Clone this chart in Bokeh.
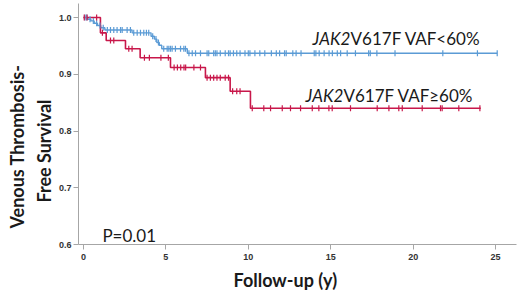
import numpy as np
from bokeh.plotting import figure
from bokeh.models import Label, FixedTicker, NumeralTickFormatter, Range1d, Title
from bokeh.embed import file_html
from bokeh.resources import INLINE

# ---- data ----
# JAK2 V617F VAF >= 60% (red)
red_times = [0, 1.03, 1.38, 2.55, 3.44, 5.28, 7.4, 8.9, 10.13, 24.1]
red_surv = [1.0, 0.973, 0.9595, 0.945, 0.929, 0.912, 0.894, 0.870, 0.840, 0.840]
red_censor = [0.05, 0.22, 0.8, 1.15, 1.64, 1.84, 2.75, 2.95, 3.7, 4.0, 4.7, 5.15,
              5.5, 5.7, 5.9, 6.1, 6.2, 6.7, 7.1, 7.5, 7.7, 7.9, 8.1, 8.3, 8.6, 8.8,
              9.05, 9.3, 9.5, 10.24, 10.94, 11.35, 12.06, 12.56, 13.17, 13.88, 14.28,
              14.89, 15.09, 16.2, 17.82, 18.53, 19.13, 19.34, 20.55, 21.66, 21.76,
              22.77, 24.05]

# JAK2 V617F VAF < 60% (blue)
blue_times = [0, 0.25, 0.45, 0.65, 0.85, 1.05, 1.3, 2.95, 4.1, 4.3, 4.45, 4.6, 4.75, 6.3, 25.1]
blue_surv = [1.0, 0.997, 0.994, 0.990, 0.986, 0.982, 0.978, 0.973, 0.967, 0.962, 0.956,
             0.951, 0.945, 0.937, 0.937]
blue_censor = [0.1, 0.2, 0.4, 0.6, 0.8, 1.0, 1.2, 1.45, 1.64, 1.84, 2.04, 2.25, 2.35,
               2.65, 2.85, 3.05, 3.26, 3.46, 3.66, 3.82, 3.96, 4.2, 4.4, 4.55, 4.87,
               5.08, 5.18, 5.28, 5.38, 5.58, 5.89, 6.09, 6.19, 6.4, 6.6, 6.8, 7.1, 7.5,
               7.6, 7.9, 8.0, 8.1, 8.3, 8.6, 8.8, 8.9, 9.1, 9.3, 9.5, 9.8, 10.0, 10.1,
               10.4, 10.7, 11.0, 11.4, 11.7, 11.9, 12.2, 12.3, 12.7, 12.9, 13.2, 14.0,
               14.1, 14.3, 14.6, 14.9, 15.1, 15.4, 15.6, 16.0, 16.5, 17.3, 17.4, 17.8,
               18.9, 21.8, 23.9, 25.1]

x_ticks = [0, 5, 10, 15, 20, 25]
y_ticks = [0.6, 0.7, 0.8, 0.9, 1.0]

RED = "#C8174A"
BLUE = "#5B9BD5"
TXT = "#1a1a1a"


def step_value(times, surv, t):
    idx = np.searchsorted(np.asarray(times), np.asarray(t), side="right") - 1
    return np.asarray(surv)[np.clip(idx, 0, len(surv) - 1)]


p = figure(width=520, height=301, x_range=Range1d(-0.30, 26.27), y_range=Range1d(0.6, 1.0247),
           output_backend="svg", toolbar_location=None,
           min_border_left=78, min_border_right=4, min_border_top=3, min_border_bottom=57)
p.xgrid.visible = False
p.ygrid.visible = False
p.outline_line_color = None
p.background_fill_color = "white"
p.border_fill_color = "white"

for ax in (p.xaxis[0], p.yaxis[0]):
    ax.axis_line_color = "#a6a6a6"
    ax.major_tick_line_color = "#a6a6a6"
    ax.minor_tick_line_color = None
    ax.major_tick_out = 5
    ax.major_tick_in = 0
    ax.major_label_text_font = "Liberation Sans"
    ax.major_label_text_font_size = "9px"
    ax.major_label_text_font_style = "bold"
    ax.major_label_text_color = "#333333"
p.xaxis.ticker = FixedTicker(ticks=x_ticks)
p.yaxis.ticker = FixedTicker(ticks=y_ticks)
p.yaxis.formatter = NumeralTickFormatter(format="0.0")
p.xaxis.major_label_standoff = 4
p.yaxis.major_label_standoff = 2

# curves
p.step(blue_times, blue_surv, mode="after", line_color=BLUE, line_width=1.4)
p.step(red_times, red_surv, mode="after", line_color=RED, line_width=1.6)
p.scatter(blue_censor, step_value(blue_times, blue_surv, blue_censor), marker="dash",
          angle=np.pi / 2, size=6, line_color=BLUE, line_width=1.2)
p.scatter(red_censor, step_value(red_times, red_surv, red_censor), marker="dash",
          angle=np.pi / 2, size=6, line_color=RED, line_width=1.2)

# legend-like labels
for x0, yv, rest in ((13.9, 0.963, "V617F VAF<60%"), (13.47, 0.8626, "V617F VAF\u226560%")):
    p.add_layout(Label(x=x0, y=yv, text="JAK2", text_font="Lato", text_font_size="17px",
                       text_font_style="italic", text_color=TXT, text_baseline="alphabetic"))
    p.add_layout(Label(x=x0, y=yv, x_offset=38, text=rest, text_font="Lato",
                       text_font_size="17px", text_color=TXT, text_baseline="alphabetic"))

p.add_layout(Label(x=1.15, y=0.616, text="P=0.01", text_font="Lato", text_font_size="17px",
                   text_color=TXT, text_baseline="alphabetic"))

# axis titles (as side titles so they can be positioned)
p.add_layout(Title(text="Follow-up (y)", align="left", offset=155, standoff=8,
                   text_font="Lato", text_font_size="18px", text_font_style="bold",
                   text_color=TXT), "below")
p.add_layout(Title(text="Free Survival", align="left", offset=42, standoff=2,
                   text_font="Lato", text_font_size="18px", text_font_style="bold",
                   text_color=TXT), "left")
p.add_layout(Title(text="Venous Thrombosis-", align="left", offset=16, standoff=3,
                   text_font="Lato", text_font_size="18px", text_font_style="bold",
                   text_color=TXT), "left")

open("out.html", "w").write(file_html(p, INLINE))
